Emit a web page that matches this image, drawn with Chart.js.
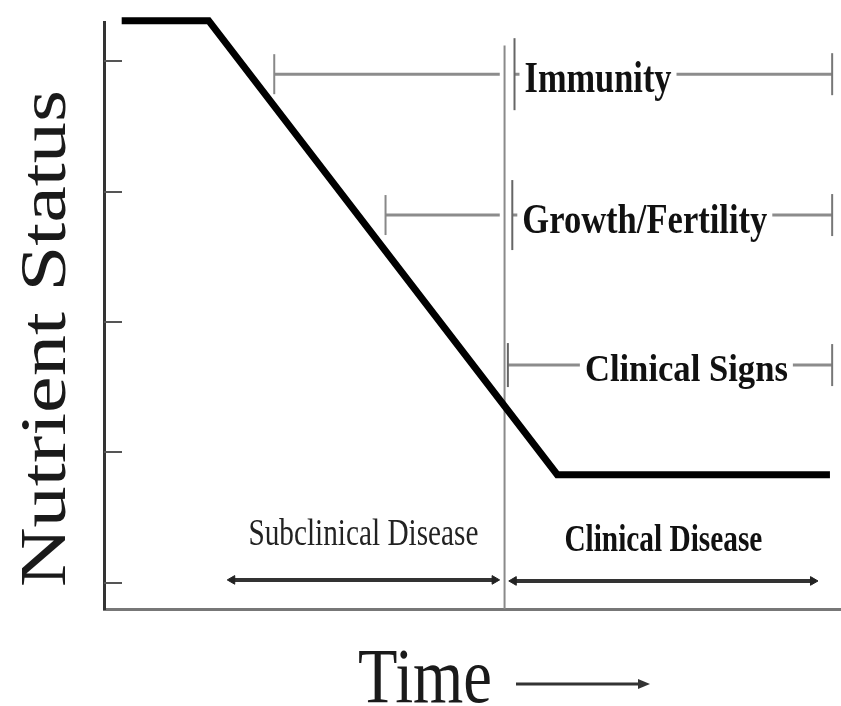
<!DOCTYPE html>
<html><head><meta charset="utf-8">
<script src="https://cdn.jsdelivr.net/npm/chart.js@4/dist/chart.umd.min.js"></script>
<style>html,body{margin:0;padding:0;background:#fff}#wrap{width:841px;height:706px;position:relative}</style>
</head><body><div id="wrap"><canvas id="c" width="841" height="706"></canvas></div>
<script>
// ---- data ----
const timePoints = [2.4, 14.2, 61.5, 98.5];
const nutrientStatus = [45.1, 45.1, 10.3, 10.3];
const yTickValues = [2, 12, 22, 32, 42];
const effectLabels = ['Immunity', 'Growth/Fertility', 'Clinical Signs'];
const effectLevel = [41.0, 30.2, 18.7];
const effectOnset = [23.1, 38.2, null];
const subclinicalBoundary = 53.7;
const clinicalOnset = [55.7, 55.4, 54.8];
const effectEnd = [98.8, 98.8, 98.8];
const dividerTime = 54.35;
const dividerTop = 43.2;
const phaseLabels = ['Subclinical Disease', 'Clinical Disease'];
const phaseStart = [17.4, 55.6];
const phaseEnd = [53.0, 96.2];
const phaseLevel = [2.23, 2.15];
const xTitle = 'Time';
const yTitle = 'Nutrient Status';

// ---- build datasets ----
const datasets = [];
datasets.push({
  data: timePoints.map((x, i) => ({x, y: nutrientStatus[i]})),
  borderColor: '#000', borderWidth: 7, pointRadius: 0, showLine: true,
  borderJoinStyle: 'miter', borderCapStyle: 'butt', clip: false
});
datasets.push({
  data: [{x: dividerTime, y: 0}, {x: dividerTime, y: dividerTop}],
  borderColor: '#8a8a8a', borderWidth: 2, pointRadius: 0, showLine: true
});
const innerCapRadius = [36, 35, 22];
effectLabels.forEach((lab, i) => {
  const y = effectLevel[i];
  if (effectOnset[i] !== null) {
    datasets.push({
      data: [{x: effectOnset[i], y}, {x: subclinicalBoundary, y}],
      borderColor: '#8c8c8c', borderWidth: 3, showLine: true,
      pointStyle: 'line', rotation: 90, pointRadius: [20, 0],
      pointBorderColor: '#888', pointBorderWidth: 2
    });
  }
  datasets.push({
    data: [{x: clinicalOnset[i], y}, {x: effectEnd[i], y}],
    borderColor: '#8c8c8c', borderWidth: 3, showLine: true,
    pointStyle: 'line', rotation: 90, pointRadius: [innerCapRadius[i], 21],
    pointBorderColor: ['#666', '#777'], pointBorderWidth: 2
  });
});
phaseLabels.forEach((lab, i) => {
  datasets.push({
    data: [{x: phaseStart[i], y: phaseLevel[i]}, {x: phaseEnd[i], y: phaseLevel[i]}],
    borderColor: '#333', borderWidth: 4, showLine: true,
    pointStyle: 'triangle', rotation: [-90, 90], pointRadius: 5,
    pointBackgroundColor: '#222', pointBorderColor: '#222', pointBorderWidth: 1
  });
});

function fitText(ctx, str, font, x, baseline, width) {
  ctx.font = font;
  const w = ctx.measureText(str).width;
  ctx.save();
  ctx.translate(x, baseline);
  ctx.scale(width / w, 1);
  ctx.textAlign = 'left';
  ctx.textBaseline = 'alphabetic';
  ctx.fillText(str, 0, 0);
  ctx.restore();
}

const SERIF = '"Liberation Serif", "DejaVu Serif", serif';
const effectTextStyle = [
  {offset: 10, size: 44, width: 147, base: 18},
  {offset: 10, size: 42, width: 245, base: 18},
  {offset: 77, size: 38, width: 203, base: 16}
];
const phaseTextStyle = [
  {weight: 'normal', size: 38, width: 230, rise: 35},
  {weight: 'bold', size: 38, width: 198, rise: 30}
];

const annot = {
  id: 'annot',
  afterDraw(chart) {
    const ctx = chart.ctx, xs = chart.scales.x, ys = chart.scales.y, ca = chart.chartArea;
    ctx.save();
    // inward ticks
    ctx.strokeStyle = '#555'; ctx.lineWidth = 2;
    ys.ticks.forEach(t => {
      const py = Math.round(ys.getPixelForValue(t.value));
      ctx.beginPath(); ctx.moveTo(ca.left, py); ctx.lineTo(ca.left + 18, py); ctx.stroke();
    });
    // effect labels
    effectLabels.forEach((lab, i) => {
      const st = effectTextStyle[i];
      const px = xs.getPixelForValue(clinicalOnset[i]) + st.offset;
      const py = ys.getPixelForValue(effectLevel[i]);
      ctx.fillStyle = '#fff';
      ctx.fillRect(px - 5, py - 5, st.width + 10, 10);
      ctx.fillStyle = '#111';
      fitText(ctx, lab, 'bold ' + st.size + 'px ' + SERIF, px, py + st.base, st.width);
    });
    // phase labels
    phaseLabels.forEach((lab, i) => {
      const st = phaseTextStyle[i];
      const cx = (xs.getPixelForValue(phaseStart[i]) + xs.getPixelForValue(phaseEnd[i])) / 2;
      const py = ys.getPixelForValue(phaseLevel[i]) - st.rise;
      ctx.fillStyle = st.weight === 'bold' ? '#111' : '#222';
      fitText(ctx, lab, st.weight + ' ' + st.size + 'px ' + SERIF, cx - st.width / 2, py, st.width);
    });
    // x title
    ctx.fillStyle = '#1a1a1a';
    fitText(ctx, xTitle, 'normal 78px ' + SERIF, 358, 702, 134);
    ctx.strokeStyle = '#333'; ctx.lineWidth = 3;
    ctx.beginPath(); ctx.moveTo(516, 684); ctx.lineTo(642, 684); ctx.stroke();
    ctx.fillStyle = '#333';
    ctx.beginPath(); ctx.moveTo(650, 684); ctx.lineTo(638, 679); ctx.lineTo(638, 689); ctx.closePath(); ctx.fill();
    // y title (rotated)
    ctx.fillStyle = '#1a1a1a';
    ctx.font = 'normal 82px ' + SERIF;
    const w = ctx.measureText(yTitle).width;
    ctx.save();
    ctx.translate(65, 338.5);
    ctx.rotate(-Math.PI / 2);
    ctx.scale(497 / w, 0.79);
    ctx.textAlign = 'center';
    ctx.textBaseline = 'alphabetic';
    ctx.fillText(yTitle, 0, 0);
    ctx.restore();
    ctx.restore();
  }
};

new Chart(document.getElementById('c'), {
  type: 'scatter',
  data: {datasets},
  options: {
    responsive: false, animation: false, events: [],
    layout: {autoPadding: false, padding: {left: 104, right: 0, top: 22, bottom: 97}},
    plugins: {legend: {display: false}, tooltip: {enabled: false}},
    scales: {
      x: {type: 'linear', min: 0, max: 100,
          ticks: {display: false},
          grid: {display: true, drawOnChartArea: false, drawTicks: false},
          border: {display: true, color: '#777', width: 3}},
      y: {type: 'linear', min: 0, max: 45,
          afterBuildTicks: s => { s.ticks = yTickValues.map(v => ({value: v})); },
          ticks: {display: false},
          grid: {display: true, drawOnChartArea: false, drawTicks: false},
          border: {display: true, color: '#333', width: 3}}
    }
  },
  plugins: [annot]
});
</script></body></html>
